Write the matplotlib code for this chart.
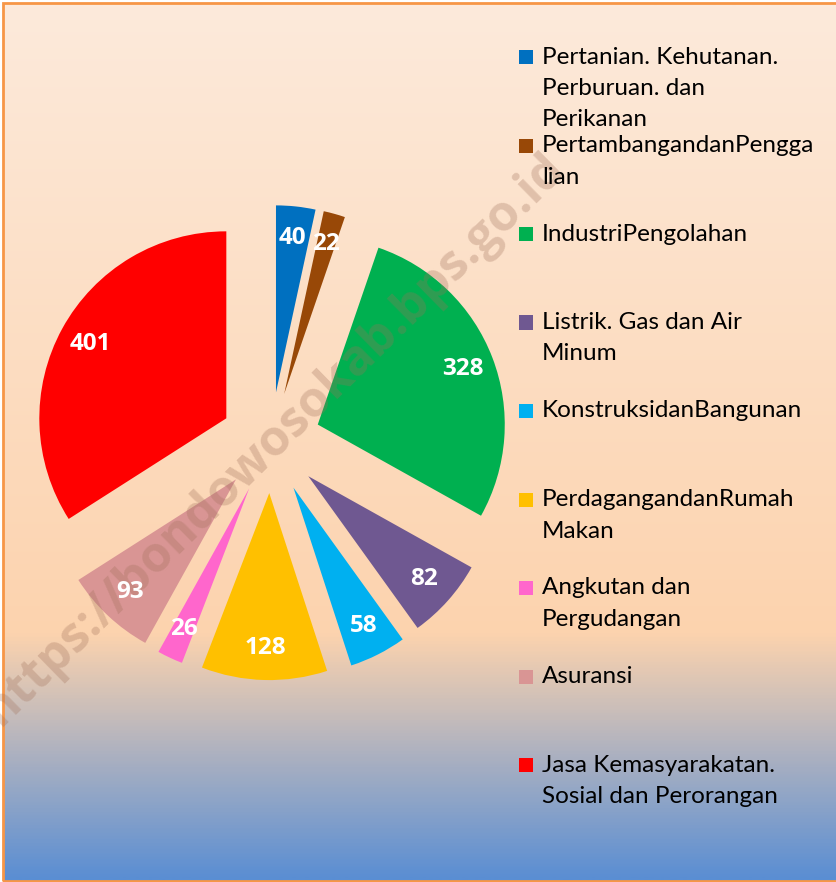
import numpy as np
import matplotlib
matplotlib.use("Agg")
import matplotlib.pyplot as plt
from matplotlib.patches import Rectangle
from matplotlib.colors import LinearSegmentedColormap

# ---------------- data ----------------
categories = [
    "Pertanian. Kehutanan.\nPerburuan. dan\nPerikanan",
    "PertambangandanPengga\nlian",
    "IndustriPengolahan",
    "Listrik. Gas dan Air\nMinum",
    "KonstruksidanBangunan",
    "PerdagangandanRumah\nMakan",
    "Angkutan dan\nPergudangan",
    "Asuransi",
    "Jasa Kemasyarakatan.\nSosial dan Perorangan",
]
values = [40, 22, 328, 82, 58, 128, 26, 93, 401]
colors = ["#0070C0", "#984807", "#00B050", "#6F5891", "#00B0F0",
          "#FFC000", "#FF66CC", "#D99594", "#FF0000"]
watermark = "https://bondowosokab.bps.go.id"

FONT = "Lato"
BOLD_FONT = "Open Sans"
W, H = 837, 882
fig = plt.figure(figsize=(W / 100, H / 100), dpi=100)
fig.patch.set_facecolor("white")

# ---------------- background gradient + border ----------------
bg = fig.add_axes([0, 0, 1, 1], zorder=0)
cmap = LinearSegmentedColormap.from_list(
    "bg", [(0.0, "#FDEADB"), (0.72, "#FCD3AE"), (1.0, "#5A8ED3")])
grad = np.linspace(0, 1, 600).reshape(-1, 1)
bg.imshow(grad, aspect="auto", cmap=cmap, origin="upper",
          extent=[3 / W, 1, 1 / H, 1 - 3 / H], interpolation="bilinear")
bg.set_xlim(0, 1)
bg.set_ylim(0, 1)
bg.axis("off")
bg.add_patch(Rectangle((3 / W, 1 / H), 1 - 3 / W + 0.01, 1 - 4 / H,
                       transform=bg.transAxes, fill=False,
                       edgecolor="#F79646", linewidth=2))

# ---------------- pie ----------------
cx, cy, R = 270.6, 442.6, 187.0   # pixel centre (from top) and radius
L = 1.45
S = 2 * L * R
ax = fig.add_axes([(cx - S / 2) / W, (H - cy - S / 2) / H, S / W, S / H], zorder=2)
ax.patch.set_alpha(0)
wedges, texts, autotexts = ax.pie(
    values, colors=colors, explode=[0.27] * len(values), startangle=90,
    counterclock=False, radius=1, autopct=lambda p: "", pctdistance=0.83,
    wedgeprops=dict(linewidth=0))
for w in wedges:
    w.set_zorder(1)
for t, v in zip(autotexts, values):
    t.set_text(str(v))
    t.set_color("white")
    t.set_fontweight("bold")
    t.set_fontsize(17.5)
    t.set_family(BOLD_FONT)
    t.set_zorder(5)
ax.set_xlim(-L, L)
ax.set_ylim(-L, L)
ax.axis("off")

# watermark (semi-transparent, above wedges, below labels)
ax.text(274 / W, 1 - 440 / H, watermark, transform=fig.transFigure,
        rotation=44.5, rotation_mode="anchor", ha="center", va="center",
        fontsize=35.5, fontweight="bold", family=BOLD_FONT, color="#A0705A",
        alpha=0.3, zorder=3, clip_on=False)

# ---------------- legend ----------------
y0, step, line_h = 57, 88.5, 31.5
for i, (name, col) in enumerate(zip(categories, colors)):
    y = y0 + step * i
    fig.patches.append(Rectangle(((526 - 7) / W, 1 - (y + 7) / H), 14 / W, 14 / H,
                                 transform=fig.transFigure, facecolor=col,
                                 edgecolor="none", zorder=4))
    for j, line in enumerate(name.split("\n")):
        fig.text(542 / W, 1 - (y + line_h * j) / H, line, ha="left",
                 va="center", fontsize=17.5, family=FONT, color="#000000",
                 zorder=4)

fig.savefig("out.png", dpi=100)
